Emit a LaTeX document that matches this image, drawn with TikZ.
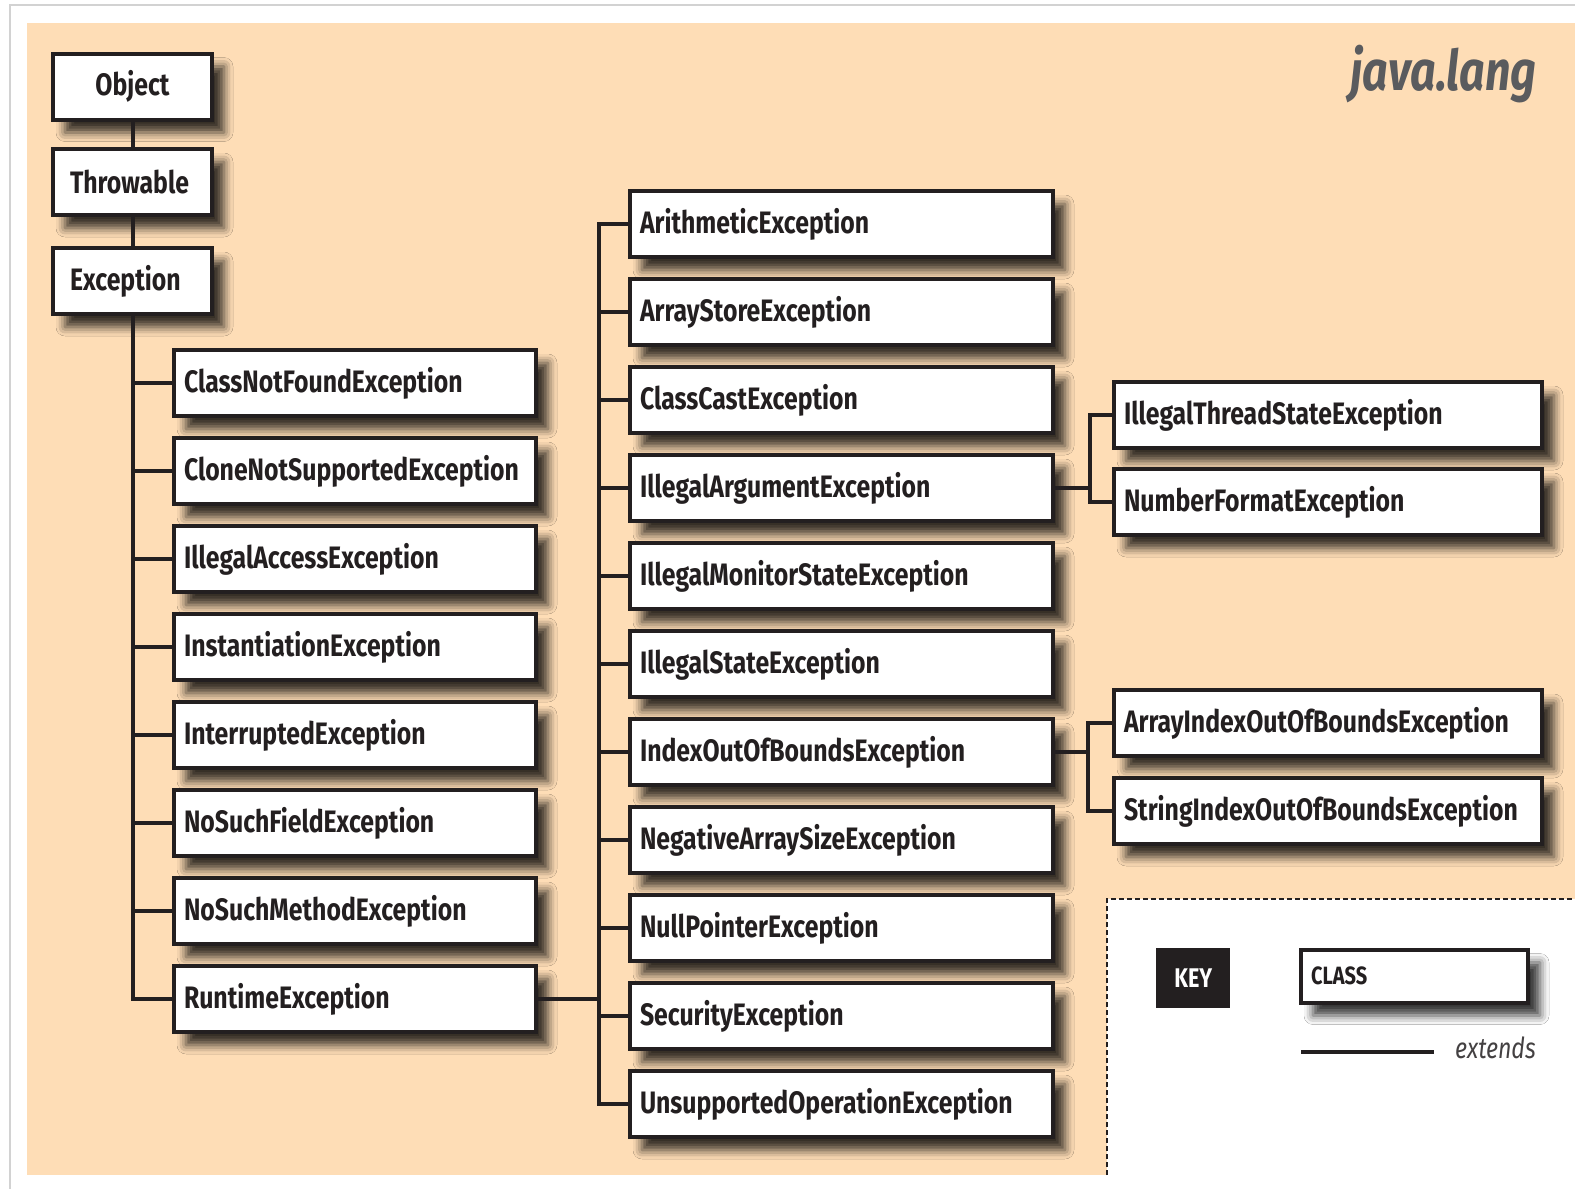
\documentclass[tikz,border=0pt]{standalone}
\usepackage{fontspec}
\newfontfamily\bx[FakeStretch=0.8]{Fira Sans}
\usetikzlibrary{shadows.blur}
\definecolor{ink}{HTML}{231F20}
\definecolor{peach}{HTML}{FEDDB6}
\definecolor{titlegray}{HTML}{5A5B5E}
\tikzset{
  shad/.style={blur shadow={shadow xshift=12pt, shadow yshift=-13pt, shadow blur radius=9pt, shadow opacity=78}},
  cls/.style={draw=ink, line width=4pt, fill=white, minimum height=66pt, inner xsep=10pt, inner ysep=0pt,
    anchor=west, align=left, text=ink, font=\bx\bfseries\fontsize{31}{36}\selectfont, shad},
  topcls/.style={cls, align=center, text width=139pt},
  toplcls/.style={cls, align=left, inner xsep=17pt, text width=125pt},
  lcls/.style={cls, text width=342pt},
  mcls/.style={cls, text width=403pt},
  rcls/.style={cls, text width=408pt},
  conn/.style={draw=ink, line width=4pt},
}
\begin{document}
\begin{tikzpicture}[x=1pt,y=-1pt]
\useasboundingbox (0,0) rectangle (1575,1189);
\fill[white] (0,0) rectangle (1575,1189);
\draw[gray!35, line width=2.5pt] (10,1189) -- (10,5) -- (1575,5);
\fill[peach] (27,23) rectangle (1575,1175);
\fill[white] (1107,899) rectangle (1575,1175);
\draw[ink, line width=1.5pt, dash pattern=on 5pt off 3pt] (1107,1175) -- (1107,899) -- (1575,899);

\node[font=\bx\bfseries\itshape\fontsize{56}{60}\selectfont, text=titlegray, anchor=base east] (title) at (1540,90) {java.lang};

% top chain
\node[topcls] (obj) at (51,86.5) {Object};
\node[toplcls] (thr) at (51,182) {Throwable};
\node[toplcls] (exc) at (51,281) {Exception};

% left column
\node[lcls] (cnf) at (172,383) {ClassNotFoundException};
\node[lcls] (cns) at (172,471) {CloneNotSupportedException};
\node[lcls] (iae) at (172,559) {IllegalAccessException};
\node[lcls] (ins) at (172,647) {InstantiationException};
\node[lcls] (intr) at (172,735) {InterruptedException};
\node[lcls] (nsf) at (172,823) {NoSuchFieldException};
\node[lcls] (nsm) at (172,911) {NoSuchMethodException};
\node[lcls] (rte) at (172,999) {RuntimeException};

% middle column
\node[mcls] (ari) at (628,224) {ArithmeticException};
\node[mcls] (ase) at (628,312) {ArrayStoreException};
\node[mcls] (cce) at (628,400) {ClassCastException};
\node[mcls] (iarg) at (628,488) {IllegalArgumentException};
\node[mcls] (imse) at (628,576) {IllegalMonitorStateException};
\node[mcls] (ise) at (628,664) {IllegalStateException};
\node[mcls] (ioob) at (628,752) {IndexOutOfBoundsException};
\node[mcls] (nase) at (628,840) {NegativeArraySizeException};
\node[mcls] (npe) at (628,928) {NullPointerException};
\node[mcls] (sec) at (628,1016) {SecurityException};
\node[mcls] (uoe) at (628,1104) {UnsupportedOperationException};

% right column
\node[rcls] (itse) at (1112,415) {IllegalThreadStateException};
\node[rcls] (nfe) at (1112,502) {NumberFormatException};
\node[rcls] (aioob) at (1112,723) {ArrayIndexOutOfBoundsException};
\node[rcls] (sioob) at (1112,811) {StringIndexOutOfBoundsException};

% key
\node[fill=ink, minimum width=74pt, minimum height=60pt, text=white, font=\bx\bfseries\fontsize{27}{30}\selectfont, anchor=north west, inner sep=0pt] (key) at (1156,948) {KEY};
\node[draw=ink, line width=4pt, fill=white, minimum height=53pt, inner xsep=10pt, inner ysep=0pt, text width=207pt, align=left,
  anchor=west, text=ink, font=\bx\bfseries\fontsize{25}{28}\selectfont, shad] (keycls) at (1299,976) {CLASS};
\coordinate (ka) at (1301,1052);
\coordinate (kb) at (1434,1052);
\draw[conn] (ka) -- (kb);
\node[anchor=west, font=\bx\itshape\fontsize{29}{32}\selectfont, text=ink!85, inner sep=0pt] (ext) at (1455,1048) {extends};

% connectors
\draw[conn] (obj) -- (thr);
\draw[conn] (thr) -- (exc);
\foreach \n in {cnf,cns,iae,ins,intr,nsf,nsm,rte}{
  \draw[conn] (exc.south) |- (\n.west);
}
\coordinate (mj) at (599,999);
\draw[conn] (rte.east) -- (mj);
\foreach \n in {ari,ase,cce,iarg,imse,ise,ioob,nase,npe,sec,uoe}{
  \draw[conn] (mj) |- (\n.west);
}
\coordinate (rj1) at (1090,488);
\draw[conn] (iarg.east) -- (rj1);
\draw[conn] (rj1) |- (itse.west);
\draw[conn] (rj1) |- (nfe.west);
\coordinate (rj2) at (1088,752);
\draw[conn] (ioob.east) -- (rj2);
\draw[conn] (rj2) |- (aioob.west);
\draw[conn] (rj2) |- (sioob.west);
\end{tikzpicture}
\end{document}
